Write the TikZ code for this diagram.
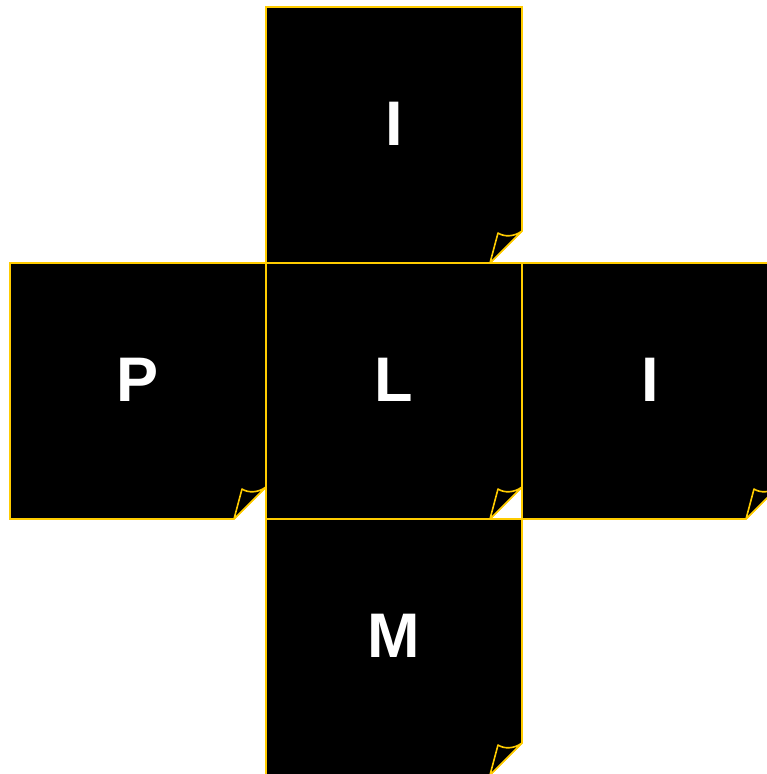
\documentclass[tikz,border=0pt]{standalone}
\usepackage{fontspec}
\setmainfont{Liberation Sans}
\definecolor{edge}{HTML}{FFCC00}
\tikzset{
  notebody/.style={fill=black, draw=edge, line width=1.6pt, line join=miter},
  noteflap/.style={fill=black, draw=edge, line width=1.6pt, line join=round},
  notelabel/.style={text=white, font=\bfseries\fontsize{63}{63}\selectfont, anchor=base, inner sep=0pt}
}
\begin{document}
\begin{tikzpicture}[x=1pt,y=1pt]
\useasboundingbox (0,0) rectangle (767,774);
\clip (0,0) rectangle (767,774);
\foreach \x/\y/\t/\n in {266/511/I/top, 10/255/P/left, 266/255/L/mid, 522/255/I/right, 266/-1/M/bottom}{
  \draw[notebody] (\x,\y) -- ++(224,0) -- ++(32,32) -- ++(0,224) -- ++(-256,0) -- cycle;
  \draw[noteflap] (\x+224,\y) -- (\x+232,\y+30) .. controls (\x+238,\y+26) and (\x+248,\y+26) .. (\x+256,\y+32) -- cycle;
  \node[notelabel] (\n) at (\x+128,\y+117) {\t};
}
\end{tikzpicture}
\end{document}
